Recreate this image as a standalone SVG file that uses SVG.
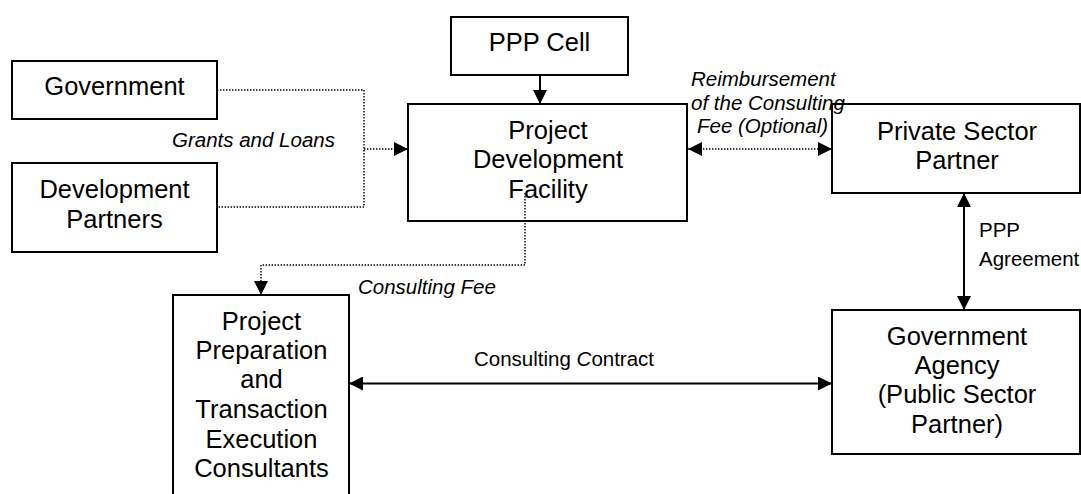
<svg xmlns="http://www.w3.org/2000/svg" width="1081" height="494" viewBox="0 0 1081 494">
  <style>
    .box { fill: #ffffff; stroke: #000000; stroke-width: 2; }
    .node-text { font-family: "Liberation Sans", Arial, sans-serif; font-size: 25.5px; fill: #000000; text-anchor: middle; }
    .label { font-family: "Liberation Sans", Arial, sans-serif; font-size: 20.5px; fill: #000000; }
    .italic { font-style: italic; }
    .solid { fill: none; stroke: #000000; stroke-width: 2; }
    .dotted { fill: none; stroke: #000000; stroke-width: 1.4; stroke-dasharray: 1.4 1.6; }
  </style>
  <defs>
    <marker id="arrow" viewBox="0 0 14 14" refX="14" refY="7" markerWidth="14" markerHeight="14" markerUnits="userSpaceOnUse" orient="auto-start-reverse">
      <path d="M0,0 L14,7 L0,14 z" fill="#000000"/>
    </marker>
  </defs>
  <rect width="1081" height="494" fill="#ffffff"/>

  <g id="government">
    <rect class="box" x="12" y="61" width="205" height="58"/>
    <text class="node-text" x="114.5" y="95">Government</text>
  </g>

  <g id="development-partners">
    <rect class="box" x="12" y="163" width="205" height="89"/>
    <text class="node-text" x="114.5" y="198">Development</text>
    <text class="node-text" x="114.5" y="227.5">Partners</text>
  </g>

  <g id="ppp-cell">
    <rect class="box" x="451" y="17" width="177" height="58"/>
    <text class="node-text" x="539.5" y="51">PPP Cell</text>
  </g>

  <g id="project-development-facility">
    <rect class="box" x="408" y="104" width="279" height="117"/>
    <text class="node-text" x="548" y="138.5">Project</text>
    <text class="node-text" x="548" y="168">Development</text>
    <text class="node-text" x="548" y="197.5">Facility</text>
  </g>

  <g id="private-sector-partner">
    <rect class="box" x="832" y="104" width="248" height="89"/>
    <text class="node-text" x="957" y="140">Private Sector</text>
    <text class="node-text" x="957" y="169">Partner</text>
  </g>

  <g id="consultants">
    <rect class="box" x="173" y="295" width="176" height="215"/>
    <text class="node-text" x="261.5" y="329.5">Project</text>
    <text class="node-text" x="261.5" y="359">Preparation</text>
    <text class="node-text" x="261.5" y="388">and</text>
    <text class="node-text" x="261.5" y="417.5">Transaction</text>
    <text class="node-text" x="261.5" y="447.5">Execution</text>
    <text class="node-text" x="261.5" y="477">Consultants</text>
  </g>

  <g id="government-agency">
    <rect class="box" x="832" y="310" width="248" height="144"/>
    <text class="node-text" x="957" y="344.5">Government</text>
    <text class="node-text" x="957" y="373.5">Agency</text>
    <text class="node-text" x="957" y="403">(Public Sector</text>
    <text class="node-text" x="957" y="432.5">Partner)</text>
  </g>

  <!-- connectors, drawn over the boxes -->
  <g id="connectors">
    <!-- Government / Development Partners to Project Development Facility -->
    <path class="dotted" d="M217,90 H364 V207 H217"/>
    <path class="dotted" d="M364,149 H408" marker-end="url(#arrow)"/>
    <!-- PPP Cell to Project Development Facility -->
    <path class="solid" d="M540,75 V104" marker-end="url(#arrow)"/>
    <!-- Reimbursement between PDF and Private Sector Partner -->
    <path class="dotted" d="M688,149 H832" marker-start="url(#arrow)" marker-end="url(#arrow)"/>
    <!-- Consulting fee from PDF to consultants -->
    <path class="dotted" d="M525,193 V265 H261 V295" marker-end="url(#arrow)"/>
    <!-- PPP Agreement -->
    <path class="solid" d="M964,193 V310" marker-start="url(#arrow)" marker-end="url(#arrow)"/>
    <!-- Consulting Contract -->
    <path class="solid" d="M349,383.5 H832" marker-start="url(#arrow)" marker-end="url(#arrow)"/>

    <text class="label italic" x="172" y="147">Grants and Loans</text>
    <text class="label italic" x="691" y="86">Reimbursement</text>
    <text class="label italic" x="691" y="110">of the Consulting</text>
    <text class="label italic" x="697" y="133">Fee (Optional)</text>
    <text class="label italic" x="358" y="294">Consulting Fee</text>
    <text class="label" x="474" y="366">Consulting <tspan class="italic">C</tspan>ontract</text>
    <text class="label" x="979" y="237">PPP</text>
    <text class="label" x="979" y="266">Agreement</text>
  </g>
</svg>
